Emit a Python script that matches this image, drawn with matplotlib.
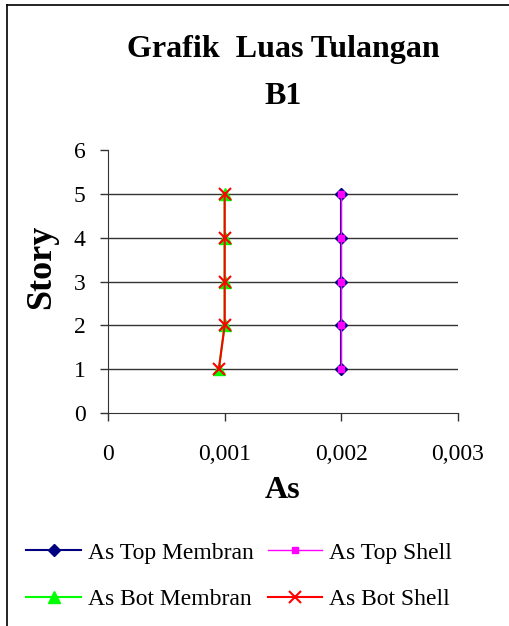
import numpy as np
import matplotlib
matplotlib.use("Agg")
import matplotlib.pyplot as plt
from matplotlib.ticker import FuncFormatter

# ── Data ──────────────────────────────────────────────────────────────────────
story          = [1, 2, 3, 4, 5]
as_top_membran = [0.002, 0.002, 0.002, 0.002, 0.002]
as_top_shell   = [0.002, 0.002, 0.002, 0.002, 0.002]
as_bot_membran = [0.00095, 0.001, 0.001, 0.001, 0.001]
as_bot_shell   = [0.00095, 0.001, 0.001, 0.001, 0.001]
x_ticks        = [0, 0.001, 0.002, 0.003]
y_ticks        = [0, 1, 2, 3, 4, 5, 6]

plt.rcParams["font.family"] = ["Liberation Serif", "DejaVu Serif"]

fig = plt.figure(figsize=(5.09, 6.26), dpi=100)
ax = fig.add_axes([108/509, 1 - 413/626, 350/509, 263/626])

# frame round the chart area: only left and top edges show
fig.add_artist(plt.Line2D([6.5/509, 6.5/509], [0, 1 - 5/626],
                          transform=fig.transFigure, color="black", lw=1.2))
fig.add_artist(plt.Line2D([6.5/509, 1], [1 - 5/626, 1 - 5/626],
                          transform=fig.transFigure, color="black", lw=1.2))

# ── Series ────────────────────────────────────────────────────────────────────
l1, = ax.plot(as_top_membran, story, color="#000080", marker="D", ms=6,
              lw=1.5, label="As Top Membran", zorder=3)
l2, = ax.plot(as_top_shell, story, color="#ff00ff", marker="s", ms=5,
              lw=1.0, label="As Top Shell", zorder=4)
l3, = ax.plot(as_bot_membran, story, color="#00ff00", marker="^", ms=8,
              lw=1.5, label="As Bot Membran", zorder=3)
l4, = ax.plot(as_bot_shell, story, color="#ff0000", marker="x", ms=8, mew=1.5,
              lw=1.5, label="As Bot Shell", zorder=4)

# ── Axes ──────────────────────────────────────────────────────────────────────
ax.set_xlim(0, 0.003)
ax.set_ylim(0, 6)
ax.set_xticks(x_ticks)
ax.set_yticks(y_ticks)
ax.xaxis.set_major_formatter(FuncFormatter(
    lambda v, p: "0" if v == 0 else f"{v:.3f}".replace(".", ",")))
ax.tick_params(axis="both", labelsize=17, direction="out", length=6,
               width=1.0, colors="#333333", labelcolor="black")
ax.tick_params(axis="x", pad=16)
ax.tick_params(axis="y", pad=10)
for yv in y_ticks[1:-1]:
    ax.axhline(yv, color="#333333", lw=1.0, zorder=1)
for s in ["top", "right"]:
    ax.spines[s].set_visible(False)
for s in ["left", "bottom"]:
    ax.spines[s].set_color("#333333")

ax.set_xlabel("As", fontsize=23, fontweight="bold", labelpad=8)
ax.set_ylabel("Story", fontsize=26, fontweight="bold", va="center")
ax.yaxis.set_label_coords(-0.19, 0.555)

fig.text(283/509, 1 - 50/626, "Grafik  Luas Tulangan", fontsize=23,
         fontweight="bold", ha="center", va="center")
fig.text(283/509, 1 - 96/626, "B1", fontsize=23,
         fontweight="bold", ha="center", va="center")

fig.legend([l1, l3, l2, l4],
           ["As Top Membran", "As Bot Membran", "As Top Shell", "As Bot Shell"],
           ncol=2, loc="center", bbox_to_anchor=(0.47, 1 - 576/626),
           frameon=False, fontsize=17, handlelength=2.3, handletextpad=0.3,
           columnspacing=0.6, labelspacing=1.05, borderaxespad=0)

plt.savefig("out.png", dpi=100)
plt.close()
